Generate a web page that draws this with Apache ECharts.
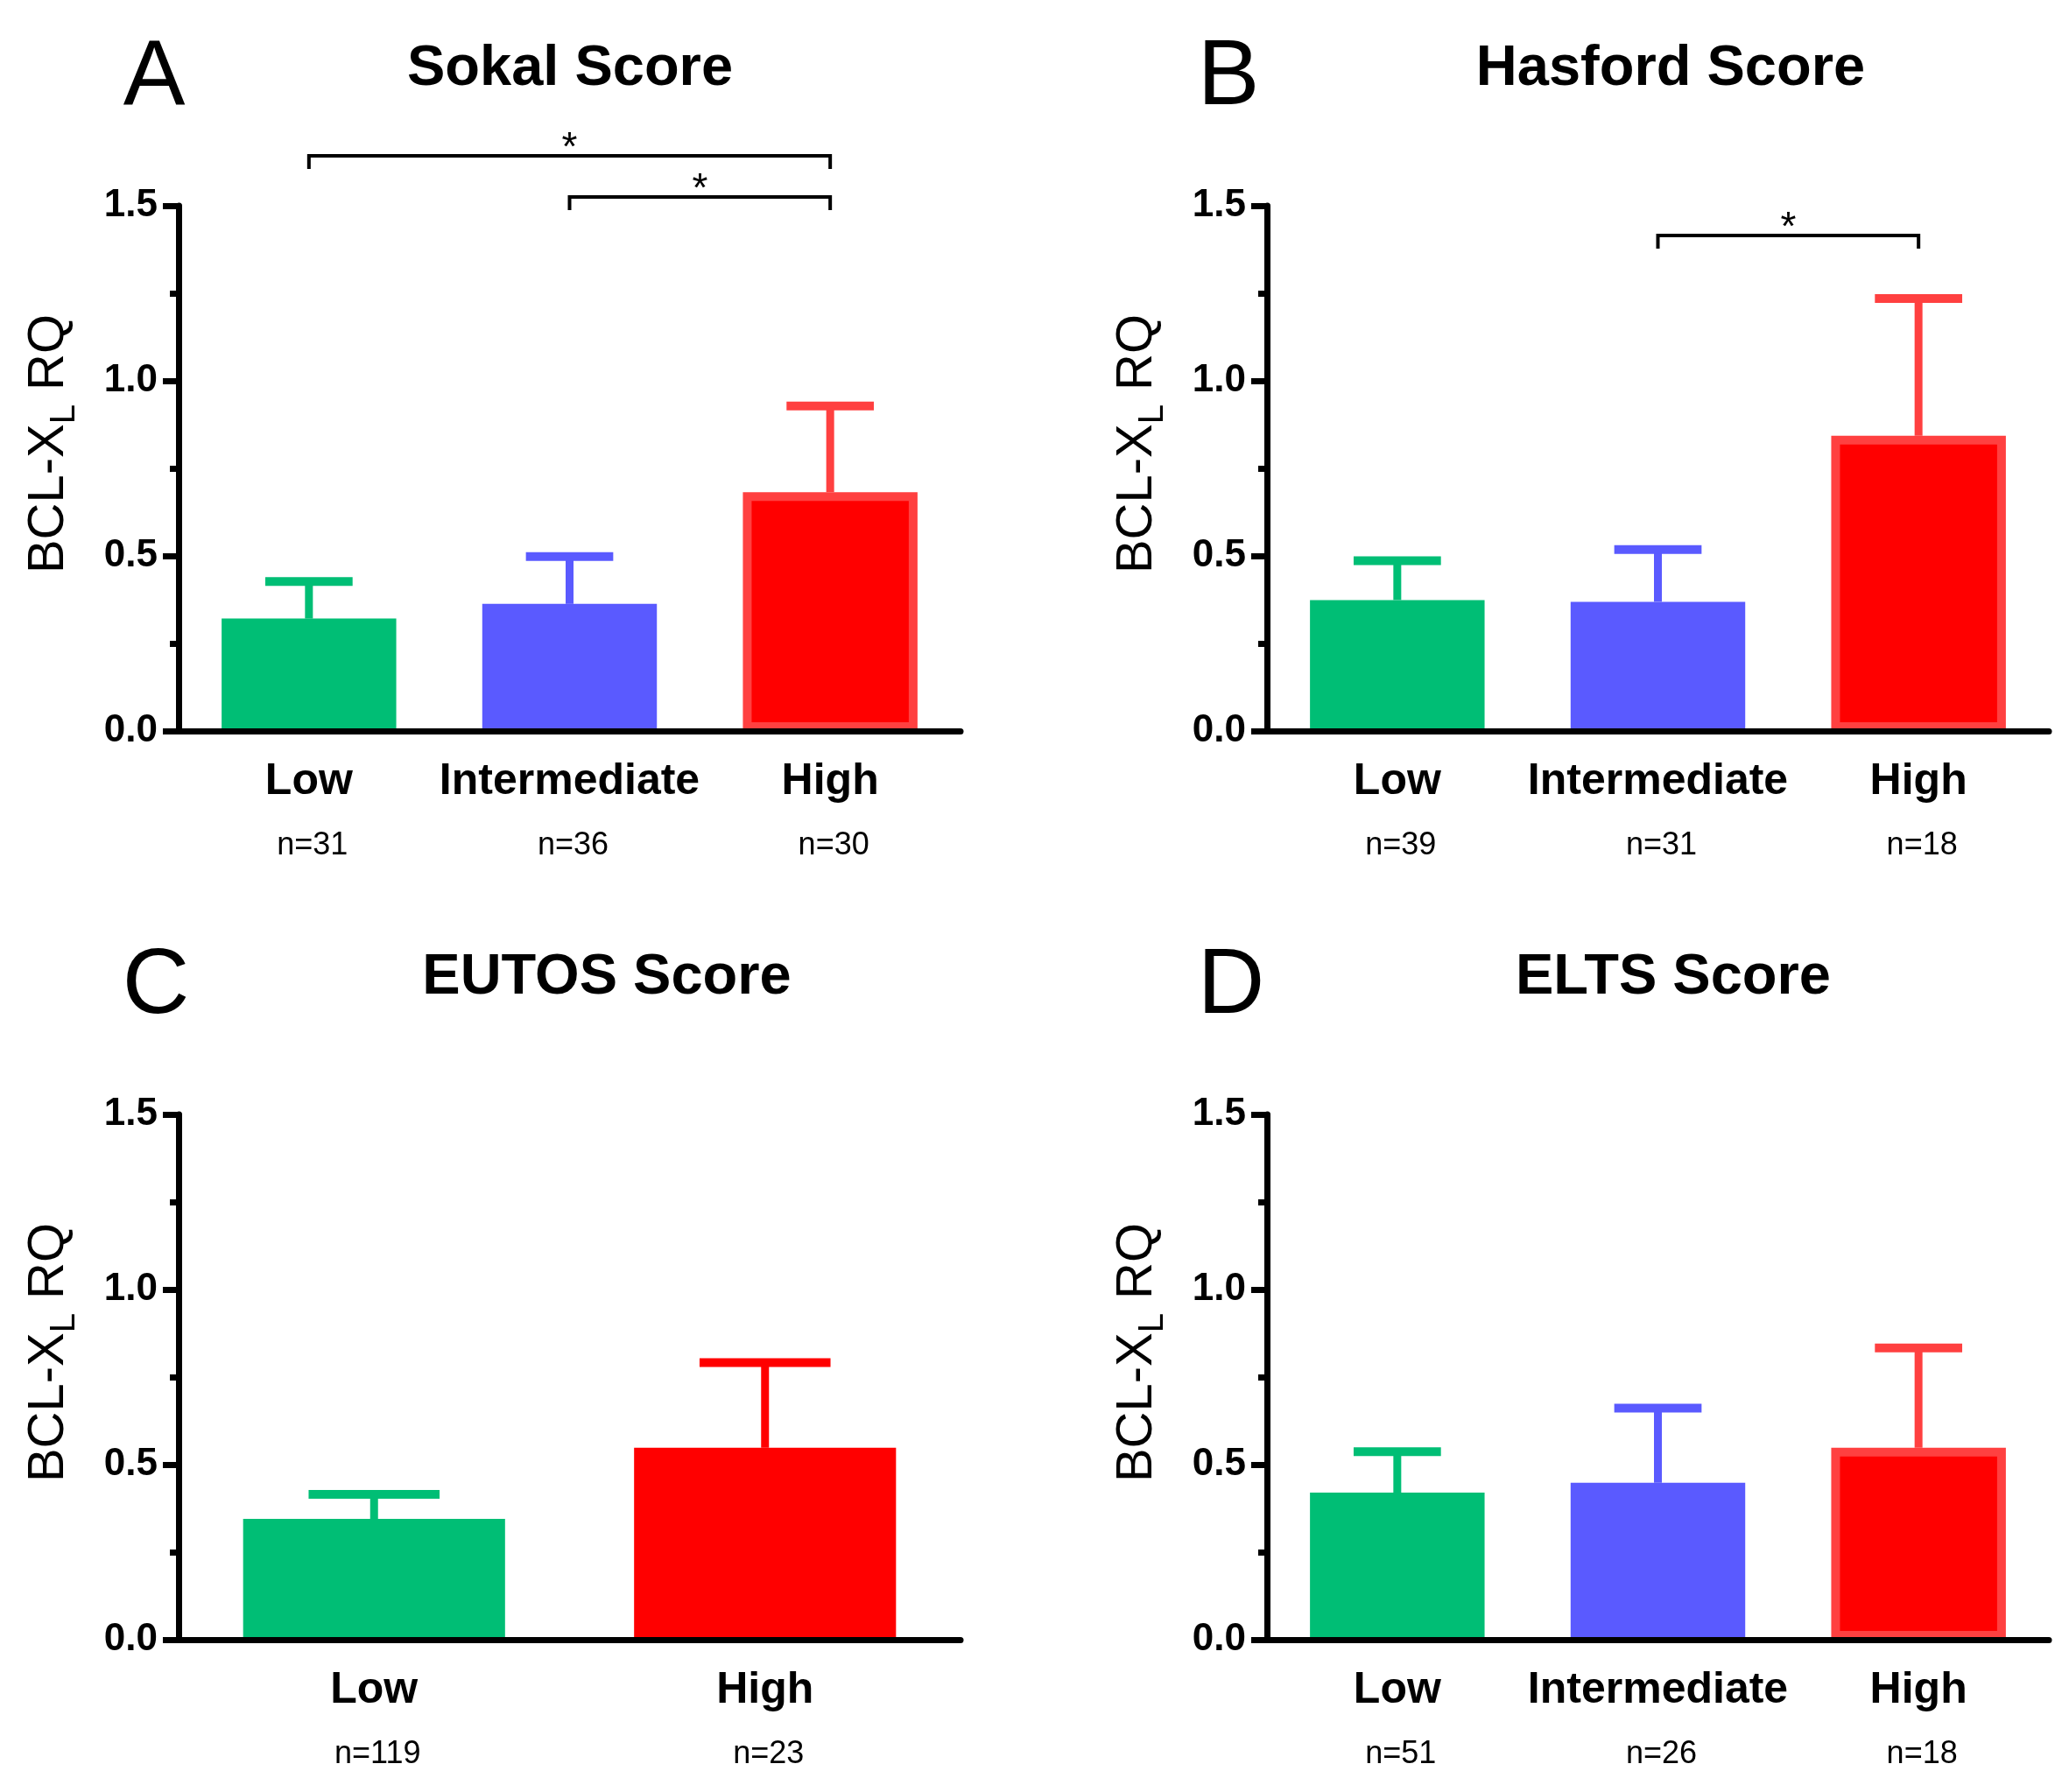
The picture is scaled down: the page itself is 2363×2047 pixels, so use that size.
<!DOCTYPE html>
<html>
<head>
<meta charset="utf-8">
<script src="https://cdn.jsdelivr.net/npm/echarts@6.0.0/dist/echarts.min.js"></script>
<style>
  html, body { margin: 0; padding: 0; background: #fff; }
  #main { width: 2363px; height: 2047px; }
</style>
</head>
<body>
<div id="main"></div>
<script>
// ---- data ----
var cat3 = ['Low', 'Intermediate', 'High'];
var cat2 = ['Low', 'High'];

var sokalN = ['n=31', 'n=36', 'n=30'];
var sokalMean = [0.321, 0.363, 0.682];
var sokalUpper = [0.427, 0.498, 0.928];
var sokalBrackets = [[0, 2, 1.6425], [1, 2, 1.525]];
var sokalStars = ['*', '*'];

var hasfordN = ['n=39', 'n=31', 'n=18'];
var hasfordMean = [0.374, 0.369, 0.843];
var hasfordUpper = [0.486, 0.518, 1.235];
var hasfordBrackets = [[1, 2, 1.415]];
var hasfordStars = ['*'];

var eutosN = ['n=119', 'n=23'];
var eutosMean = [0.345, 0.548];
var eutosUpper = [0.415, 0.791];

var eltsN = ['n=51', 'n=26', 'n=18'];
var eltsMean = [0.420, 0.448, 0.548];
var eltsUpper = [0.537, 0.661, 0.833];

var yTickFmt = function (v) { return v.toFixed(1); };

// ---- styles ----
var FONT = '"Liberation Sans", Arial, sans-serif';
var GREEN = '#00BE75', BLUE = '#5A5AFF', RED = '#FF0000', RED_EDGE = '#FF4040';

var chart = echarts.init(document.getElementById('main'));

var grids = [
  { left: 204, top: 235, width: 893, height: 600 },
  { left: 1447, top: 235, width: 893, height: 600 },
  { left: 204, top: 1273, width: 893, height: 600 },
  { left: 1447, top: 1273, width: 893, height: 600 }
];

function xAxisFor(idx, cats, ns) {
  return {
    type: 'category', gridIndex: idx, data: cats, z: 10,
    axisLine: { lineStyle: { color: '#000', width: 7 } },
    axisTick: { alignWithLabel: true, length: 18, lineStyle: { color: '#000', width: 7 } },
    axisLabel: {
      margin: 28, interval: 0,
      formatter: function (v, i) { return '{c|' + v + '}\n{n|' + ns[i] + '}'; },
      rich: {
        c: { fontSize: 50, fontWeight: 'bold', fontFamily: FONT, color: '#000', lineHeight: 60 },
        n: { fontSize: 36, fontFamily: FONT, color: '#000', lineHeight: 86, padding: [0, 0, 0, 8] }
      }
    },
    splitLine: { show: false }
  };
}

function yAxisFor(idx) {
  return {
    type: 'value', gridIndex: idx, min: 0, max: 1.5, interval: 0.5, z: 10,
    name: 'BCL-X{sub|L} RQ',
    nameLocation: 'middle', nameRotate: 90, nameGap: 110,
    nameTextStyle: {
      fontSize: 58, fontFamily: FONT, color: '#000', lineHeight: 76,
      padding: [0, 0, 0, 56],
      rich: { sub: { fontSize: 40, fontFamily: FONT, color: '#000', lineHeight: 40, verticalAlign: 'bottom' } }
    },
    axisLine: { show: true, lineStyle: { color: '#000', width: 7 } },
    axisTick: { show: true, length: 18, lineStyle: { color: '#000', width: 7 } },
    minorTick: { show: true, splitNumber: 2, length: 10, lineStyle: { color: '#000', width: 7 } },
    axisLabel: { margin: 24, formatter: yTickFmt, fontSize: 44, fontWeight: 'bold', fontFamily: FONT, color: '#000' },
    splitLine: { show: false }
  };
}

function barSeries(idx, means, colors, edges) {
  return {
    type: 'bar', xAxisIndex: idx, yAxisIndex: idx, barWidth: '67%', z: 3,
    data: means.map(function (m, i) {
      var it = { value: m, itemStyle: { color: colors[i] } };
      if (edges[i]) { it.itemStyle.borderColor = edges[i]; it.itemStyle.borderWidth = 10; }
      return it;
    })
  };
}

function errSeries(idx, means, uppers, colors) {
  return {
    type: 'custom', xAxisIndex: idx, yAxisIndex: idx, z: 2, clip: false,
    data: means.map(function (m, i) { return [i, m, uppers[i]]; }),
    renderItem: function (params, api) {
      var x = api.value(0);
      var p0 = api.coord([x, api.value(1)]);
      var p1 = api.coord([x, api.value(2)]);
      var half = api.size([1, 0])[0] * 0.67 / 4;
      var c = colors[params.dataIndex];
      return {
        type: 'group', children: [
          { type: 'line', shape: { x1: p0[0], y1: p0[1], x2: p1[0], y2: p1[1] }, style: { stroke: c, lineWidth: 9 } },
          { type: 'line', shape: { x1: p1[0] - half, y1: p1[1], x2: p1[0] + half, y2: p1[1] }, style: { stroke: c, lineWidth: 10 } }
        ]
      };
    }
  };
}

function bracketSeries(idx, brackets, stars) {
  return {
    type: 'custom', xAxisIndex: idx, yAxisIndex: idx, z: 5, clip: false,
    data: brackets,
    renderItem: function (params, api) {
      var a = api.coord([api.value(0), api.value(2)]);
      var b = api.coord([api.value(1), api.value(2)]);
      return {
        type: 'group', children: [
          { type: 'polyline', shape: { points: [[a[0], a[1] + 15], [a[0], a[1]], [b[0], b[1]], [b[0], b[1] + 15]] },
            style: { stroke: '#000', lineWidth: 4, fill: null } },
          { type: 'text', x: (a[0] + b[0]) / 2, y: a[1] - 8,
            style: { text: stars[params.dataIndex], fontSize: 46, fontFamily: FONT, fill: '#000', align: 'center', verticalAlign: 'middle' } }
        ]
      };
    }
  };
}

function label(x, y, text, size, weight) {
  return { type: 'text', x: x, y: y, style: { text: text, fontSize: size, fontWeight: weight, fontFamily: FONT, fill: '#000', align: 'center', verticalAlign: 'middle' } };
}

var option = {
  backgroundColor: '#fff',
  animation: false,
  grid: grids,
  xAxis: [xAxisFor(0, cat3, sokalN), xAxisFor(1, cat3, hasfordN), xAxisFor(2, cat2, eutosN), xAxisFor(3, cat3, eltsN)],
  yAxis: [yAxisFor(0), yAxisFor(1), yAxisFor(2), yAxisFor(3)],
  graphic: [
    label(176, 90, 'A', 106, 'normal'),
    label(1403, 90, 'B', 106, 'normal'),
    label(178, 1128, 'C', 106, 'normal'),
    label(1406, 1128, 'D', 106, 'normal'),
    label(651, 79, 'Sokal Score', 65, 'bold'),
    label(1908, 79, 'Hasford Score', 65, 'bold'),
    label(693, 1117, 'EUTOS Score', 65, 'bold'),
    label(1911, 1117, 'ELTS Score', 65, 'bold')
  ],
  series: [
    errSeries(0, sokalMean, sokalUpper, [GREEN, BLUE, RED_EDGE]),
    barSeries(0, sokalMean, [GREEN, BLUE, RED], [null, null, RED_EDGE]),
    bracketSeries(0, sokalBrackets, sokalStars),

    errSeries(1, hasfordMean, hasfordUpper, [GREEN, BLUE, RED_EDGE]),
    barSeries(1, hasfordMean, [GREEN, BLUE, RED], [null, null, RED_EDGE]),
    bracketSeries(1, hasfordBrackets, hasfordStars),

    errSeries(2, eutosMean, eutosUpper, [GREEN, RED]),
    barSeries(2, eutosMean, [GREEN, RED], [null, null]),

    errSeries(3, eltsMean, eltsUpper, [GREEN, BLUE, RED_EDGE]),
    barSeries(3, eltsMean, [GREEN, BLUE, RED], [null, null, RED_EDGE])
  ]
};

chart.setOption(option);
</script>
</body>
</html>
